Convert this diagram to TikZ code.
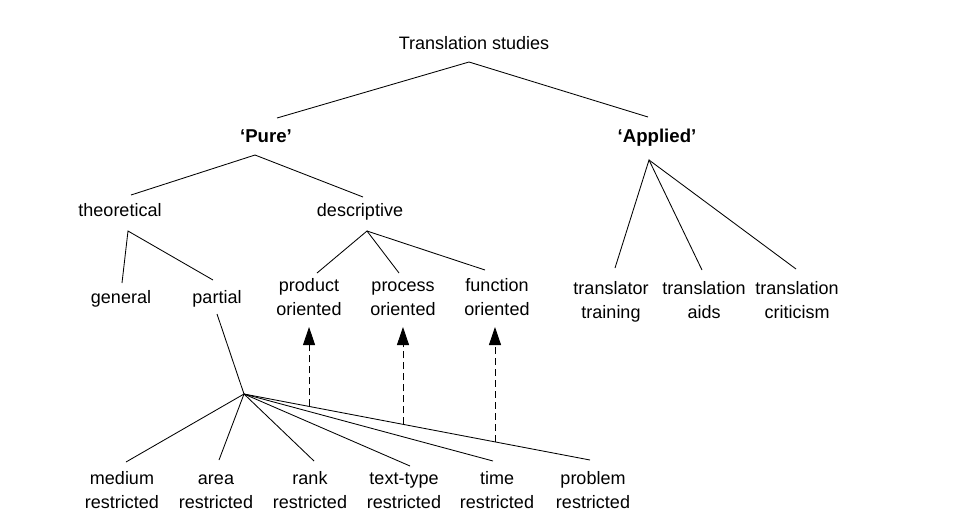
\documentclass[tikz,border=0pt]{standalone}
\usepackage{fontspec}
\setmainfont{Liberation Sans}
\usetikzlibrary{arrows.meta,calc}
\begin{document}
\begin{tikzpicture}[x=1pt,y=-1pt,
  lbl/.style={inner sep=0pt, align=center, font=\fontsize{18}{23.5}\selectfont},
  bold/.style={lbl, font=\fontsize{18.6}{23.5}\selectfont\bfseries},
  edge/.style={line width=0.85pt},
  dasharrow/.style={line width=0.85pt, dash pattern=on 7pt off 4pt, -{Triangle[length=18pt,width=12pt]}}]
\useasboundingbox (0,0) rectangle (965,528);
% nodes
\node[lbl] (ts) at (474,44.5) {\strut Translation studies};
\node[bold] (pure) at (266,138) {\strut ‘Pure’};
\node[bold] (appl) at (657,138) {\strut ‘Applied’};
\node[lbl] (theo) at (120,212) {\strut theoretical};
\node[lbl] (desc) at (360,211.5) {\strut descriptive};
\node[lbl] (gen) at (121,298.5) {\strut general};
\node[lbl] (part) at (217,298.5) {\strut partial};
\node[lbl] (prod) at (309,299) {\strut product\\\strut oriented};
\node[lbl] (proc) at (403,299) {\strut process\\\strut oriented};
\node[lbl] (func) at (497,299) {\strut function\\\strut oriented};
\node[lbl] (ttr) at (611,301.7) {\strut translator\\\strut training};
\node[lbl] (tai) at (704,301.7) {\strut translation\\\strut aids};
\node[lbl] (tcr) at (797,301.7) {\strut translation\\\strut criticism};
\node[lbl] (med) at (122,491.7) {\strut medium\\\strut restricted};
\node[lbl] (area) at (216,491.7) {\strut area\\\strut restricted};
\node[lbl] (rank) at (310,491.7) {\strut rank\\\strut restricted};
\node[lbl] (ttype) at (404,491.7) {\strut text-type\\\strut restricted};
\node[lbl] (time) at (497,491.7) {\strut time\\\strut restricted};
\node[lbl] (prob) at (593,491.7) {\strut problem\\\strut restricted};
% junction coordinates
\coordinate (tsJ) at (469,62);
\coordinate (pureT) at (277,118);
\coordinate (applT) at (648,117);
\coordinate (pureJ) at (255,155);
\coordinate (theoT) at (131,195);
\coordinate (descT) at (363,197);
\coordinate (theoJ) at (128,231);
\coordinate (genT) at (122,283);
\coordinate (partT) at (213,280);
\coordinate (descJ) at (367,231);
\coordinate (prodT) at (317,273);
\coordinate (procT) at (399,273);
\coordinate (funcT) at (485,270);
\coordinate (applJ) at (649,160);
\coordinate (ttrT) at (615,268);
\coordinate (taiT) at (702,270);
\coordinate (tcrT) at (796,269);
\coordinate (partB) at (217,314);
\coordinate (hub) at (244,394);
\coordinate (medT) at (126,462);
\coordinate (areaT) at (219,460);
\coordinate (rankT) at (314,461);
\coordinate (ttypeT) at (410,466);
\coordinate (timeT) at (493,461);
\coordinate (probT) at (590,460);
% tree edges
\draw[edge] (pureT) -- (tsJ) -- (applT);
\draw[edge] (theoT) -- (pureJ) -- (descT);
\draw[edge] (genT) -- (theoJ) -- (partT);
\draw[edge] (prodT) -- (descJ) -- (procT);
\draw[edge] (descJ) -- (funcT);
\draw[edge] (ttrT) -- (applJ) -- (taiT);
\draw[edge] (applJ) -- (tcrT);
\draw[edge] (partB) -- (hub);
\foreach \c in {medT,areaT,rankT,ttypeT,timeT,probT}
  \draw[edge] (hub) -- (\c);
% dashed arrows from the problem line
\coordinate (a1s) at ($(hub)!0.188!(probT)$);
\coordinate (a2s) at ($(hub)!0.4595!(probT)$);
\coordinate (a3s) at ($(hub)!0.7254!(probT)$);
\coordinate (tipy) at (0,327);
\draw[dasharrow] (a1s) -- (a1s |- tipy);
\draw[dasharrow] (a2s) -- (a2s |- tipy);
\draw[dasharrow] (a3s) -- (a3s |- tipy);
\end{tikzpicture}
\end{document}
